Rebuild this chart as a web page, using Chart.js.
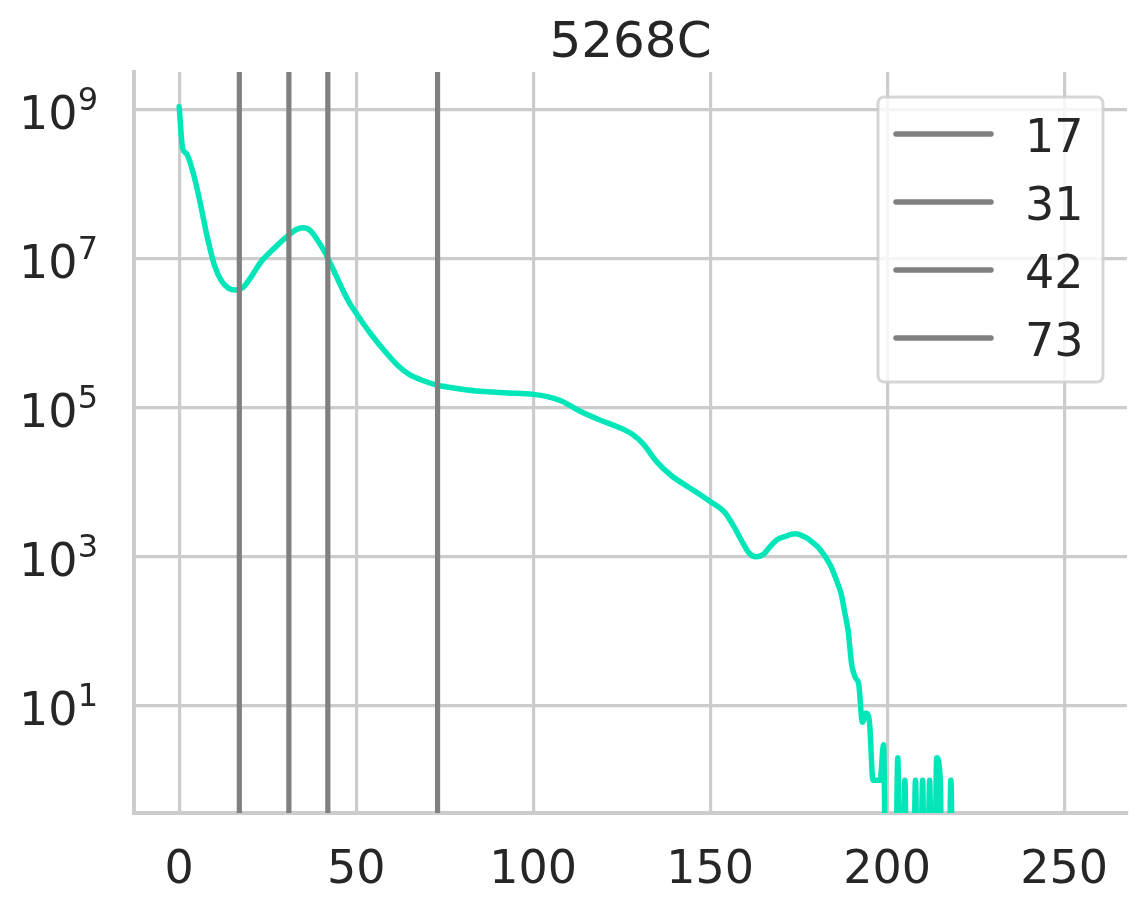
<!DOCTYPE html>
<html>
<head>
<meta charset="utf-8">
<script src="https://cdn.jsdelivr.net/npm/chart.js@4.4.1/dist/chart.umd.min.js"></script>
<style>
  html, body { margin: 0; padding: 0; background: #ffffff; }
  #wrap { width: 1145px; height: 913px; }
  canvas { display: block; }
</style>
</head>
<body>
<div id="wrap"><canvas id="c" width="1145" height="913"></canvas></div>
<script>
// ---- data ----
const chartTitle = "5268C";
const binPositions = [0,1,2,4,6,8,10,12,14,16,18,20,23,27,30,33,35,37,39,41,43,46,48,50,52,54,58,62,65,69,73,79,85,93,100,104,108,113,119,124,128,131,135,139,144,147,150,154,157,159,161,163,165,167,169,171,174,177,179,181,184,186,187,188,189,190,191,192,193,194,195,196,197,198,199,200,201,202,203,204,205,206,207,208,209,210,211,212,213,214,215,216,217,218,219,255];
const pixelCounts = [1.1e9,3.0e8,2.6e8,1.4e8,5.5e7,1.9e7,8.1e6,5.0e6,4.0e6,3.8e6,4.1e6,5.4e6,8.9e6,1.4e7,1.9e7,2.45e7,2.6e7,2.4e7,1.8e7,1.26e7,8.1e6,4.0e6,2.6e6,1.86e6,1.35e6,1.0e6,5.8e5,3.6e5,2.8e5,2.3e5,2.0e5,1.8e5,1.66e5,1.58e5,1.51e5,1.41e5,1.23e5,9.1e4,6.8e4,5.5e4,4.4e4,3.3e4,1.86e4,1.23e4,8.5e3,6.9e3,5.5e3,4.0e3,2.4e3,1.6e3,1.12e3,1.0e3,1.07e3,1.38e3,1.7e3,1.86e3,2.04e3,1.82e3,1.55e3,1.26e3,760,440,320,180,100,35,24,19,6,8,6,1,1,1,3,0,0,0,2,0,1,0,0,1,0,1,0,1,0,2,1,0,0,1,0,0];
const cutoffs = [17, 31, 42, 73];
const xTicks = [0, 50, 100, 150, 200, 250];
const yTickExponents = [1, 3, 5, 7, 9];

// ---- styling ----
const curveColor = '#00e6b8';
const cutoffColor = '#808080';
const gridColor = '#cccccc';
const textColor = '#262626';
const FONT = '"DejaVu Sans", Verdana, sans-serif';
const ZERO_STANDIN = 1e-4; // zero counts fall below the log axis and are clipped

const curveData = binPositions.map((x, i) => ({ x: x, y: pixelCounts[i] > 0 ? pixelCounts[i] : ZERO_STANDIN }));

const cutoffSets = cutoffs.map(c => ({
  label: String(c),
  data: [{ x: c, y: ZERO_STANDIN }, { x: c, y: 1e12 }],
  borderColor: cutoffColor,
  borderWidth: 5.2,
  pointRadius: 0,
  clip: 0,
  order: 0
}));

const overlay = {
  id: 'overlay',
  afterDraw(chart) {
    const ctx = chart.ctx;
    const xs = chart.scales.x, ys = chart.scales.y;
    const area = chart.chartArea;
    ctx.save();
    ctx.fillStyle = textColor;
    // title
    ctx.font = '50px ' + FONT;
    ctx.textAlign = 'center';
    ctx.textBaseline = 'alphabetic';
    ctx.fillText(chartTitle, (area.left + area.right) / 2, 57);
    // x tick labels
    ctx.font = '46px ' + FONT;
    xTicks.forEach(v => {
      ctx.fillText(String(v), xs.getPixelForValue(v), 883);
    });
    // y tick labels: 10 with superscript exponent
    ctx.textAlign = 'left';
    yTickExponents.forEach(e => {
      const py = ys.getPixelForValue(Math.pow(10, e));
      ctx.font = '46px ' + FONT;
      const wBase = ctx.measureText('10').width;
      ctx.font = '32px ' + FONT;
      const wSup = ctx.measureText(String(e)).width;
      const x0 = 98 - (wBase + wSup);
      ctx.font = '46px ' + FONT;
      ctx.fillText('10', x0, py + 19);
      ctx.font = '32px ' + FONT;
      ctx.fillText(String(e), x0 + wBase, py + 19 - 18.5);
    });
    // legend
    const bx = 878, by = 97, bw = 225, bh = 285, r = 6;
    ctx.beginPath();
    ctx.moveTo(bx + r, by);
    ctx.arcTo(bx + bw, by, bx + bw, by + bh, r);
    ctx.arcTo(bx + bw, by + bh, bx, by + bh, r);
    ctx.arcTo(bx, by + bh, bx, by, r);
    ctx.arcTo(bx, by, bx + bw, by, r);
    ctx.closePath();
    ctx.fillStyle = 'rgba(255,255,255,0.8)';
    ctx.fill();
    ctx.strokeStyle = 'rgba(204,204,204,0.8)';
    ctx.lineWidth = 3;
    ctx.stroke();
    ctx.font = '46px ' + FONT;
    ctx.textAlign = 'left';
    cutoffSets.forEach((ds, i) => {
      const cy = 134 + i * 68;
      ctx.strokeStyle = ds.borderColor;
      ctx.lineWidth = 5.5;
      ctx.lineCap = 'round';
      ctx.beginPath();
      ctx.moveTo(896, cy);
      ctx.lineTo(991, cy);
      ctx.stroke();
      ctx.fillStyle = textColor;
      ctx.fillText(ds.label, 1025, cy + 17.5);
    });
    ctx.restore();
  }
};

new Chart(document.getElementById('c'), {
  type: 'line',
  data: {
    datasets: [
      ...cutoffSets,
      {
        label: 'counts',
        data: curveData,
        borderColor: curveColor,
        borderWidth: 5.5,
        pointRadius: 0,
        cubicInterpolationMode: 'monotone',
        borderJoinStyle: 'round',
        borderCapStyle: 'round',
        clip: 0,
        order: 1
      }
    ]
  },
  options: {
    responsive: false,
    animation: false,
    devicePixelRatio: 1,
    layout: { padding: { left: 134, top: 72, right: 18, bottom: 100 } },
    plugins: {
      legend: { display: false },
      title: { display: false },
      tooltip: { enabled: false }
    },
    scales: {
      x: {
        type: 'linear',
        min: -12.75,
        max: 267.75,
        afterBuildTicks: s => { s.ticks = xTicks.map(v => ({ value: v })); },
        ticks: { display: false, includeBounds: false },
        grid: { color: gridColor, lineWidth: 3.2, drawTicks: false },
        border: { display: true, color: gridColor, width: 4 }
      },
      y: {
        type: 'logarithmic',
        min: Math.pow(10, -0.44),
        max: Math.pow(10, 9.506),
        afterBuildTicks: s => { s.ticks = yTickExponents.map(e => ({ value: Math.pow(10, e) })); },
        ticks: { display: false },
        grid: { color: gridColor, lineWidth: 3.2, drawTicks: false },
        border: { display: true, color: gridColor, width: 4 }
      }
    }
  },
  plugins: [overlay]
});
</script>
</body>
</html>
